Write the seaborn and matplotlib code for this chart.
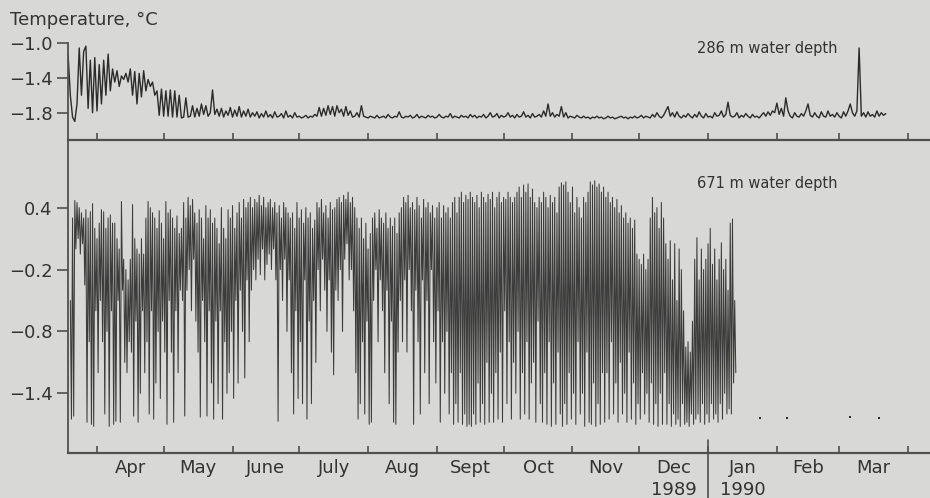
import numpy as np
import pandas as pd
import matplotlib
matplotlib.use("Agg")
import matplotlib.pyplot as plt
import matplotlib.transforms as mtransforms
import seaborn as sns

# ---------------- data (days counted from 1 March 1989) ----------------
top_start_day = 18
top_temp = [
    -1.14, -1.60, -1.85, -1.90, -1.70, -1.06, -1.60, -1.10, -1.04, -1.75,
    -1.20, -1.80, -1.17, -1.78, -1.25, -1.70, -1.20, -1.60, -1.13, -1.55,
    -1.30, -1.45, -1.32, -1.50, -1.38, -1.42, -1.35, -1.45, -1.30, -1.60,
    -1.33, -1.70, -1.35, -1.62, -1.32, -1.55, -1.42, -1.50, -1.45, -1.60,
    -1.55, -1.83, -1.53, -1.84, -1.55, -1.84, -1.54, -1.85, -1.55, -1.85,
    -1.60, -1.86, -1.85, -1.63, -1.85, -1.84, -1.72, -1.85, -1.75, -1.84,
    -1.70, -1.82, -1.72, -1.84, -1.80, -1.54, -1.82, -1.76, -1.84, -1.75,
    -1.85, -1.78, -1.83, -1.74, -1.85, -1.77, -1.84, -1.73, -1.85, -1.78,
    -1.84, -1.76, -1.85, -1.80, -1.84, -1.79, -1.86, -1.81, -1.85, -1.78,
    -1.85, -1.82, -1.86, -1.79, -1.85, -1.84, -1.81, -1.86, -1.78, -1.85,
    -1.83, -1.86, -1.80, -1.85, -1.84, -1.86, -1.85, -1.83, -1.86, -1.84,
    -1.85, -1.82, -1.84, -1.74, -1.84, -1.75, -1.83, -1.72, -1.82, -1.73,
    -1.84, -1.72, -1.80, -1.76, -1.84, -1.73, -1.83, -1.78, -1.85, -1.84,
    -1.80, -1.85, -1.72, -1.84, -1.85, -1.86, -1.84, -1.85, -1.86, -1.83,
    -1.86, -1.85, -1.84, -1.86, -1.82, -1.85, -1.86, -1.84, -1.85, -1.79,
    -1.85, -1.86, -1.84, -1.85, -1.83, -1.86, -1.85, -1.82, -1.86, -1.84,
    -1.85, -1.86, -1.83, -1.85, -1.84, -1.86, -1.85, -1.82, -1.85, -1.86,
    -1.84, -1.85, -1.81, -1.86, -1.84, -1.85, -1.86, -1.83, -1.85, -1.84,
    -1.86, -1.82, -1.85, -1.83, -1.86, -1.84, -1.85, -1.82, -1.86, -1.84,
    -1.80, -1.85, -1.84, -1.81, -1.86, -1.83, -1.85, -1.84, -1.80, -1.85,
    -1.83, -1.86, -1.82, -1.85, -1.84, -1.79, -1.85, -1.83, -1.86, -1.81,
    -1.85, -1.84, -1.82, -1.85, -1.78, -1.84, -1.70, -1.84, -1.80, -1.85,
    -1.82, -1.84, -1.73, -1.85, -1.80, -1.86, -1.84, -1.85, -1.86, -1.83,
    -1.85, -1.86, -1.84, -1.86, -1.85, -1.87, -1.85, -1.86, -1.84, -1.86,
    -1.85, -1.87, -1.86, -1.84, -1.86, -1.85, -1.87, -1.86, -1.85, -1.84,
    -1.86, -1.85, -1.87, -1.85, -1.86, -1.84, -1.86, -1.85, -1.83, -1.86,
    -1.84, -1.85, -1.86, -1.82, -1.85, -1.80, -1.84, -1.86, -1.83, -1.78,
    -1.73, -1.84, -1.80, -1.85, -1.79, -1.84, -1.86, -1.83, -1.85, -1.81,
    -1.84, -1.86, -1.82, -1.85, -1.79, -1.84, -1.86, -1.81, -1.85, -1.84,
    -1.86, -1.80, -1.84, -1.83, -1.78, -1.85, -1.82, -1.68, -1.83, -1.85,
    -1.84, -1.80, -1.86, -1.83, -1.85, -1.81, -1.84, -1.86, -1.82, -1.85,
    -1.84, -1.86, -1.83, -1.80, -1.84, -1.79, -1.83, -1.78, -1.80, -1.69,
    -1.82, -1.75, -1.84, -1.63, -1.78, -1.84, -1.86, -1.80, -1.84, -1.85,
    -1.81, -1.84, -1.78, -1.70, -1.83, -1.85, -1.80, -1.84, -1.86, -1.79,
    -1.84, -1.85, -1.78, -1.84, -1.82, -1.85, -1.80, -1.84, -1.86, -1.79,
    -1.84, -1.78, -1.70, -1.80, -1.84, -1.78, -1.06, -1.84, -1.80, -1.85,
    -1.79, -1.84, -1.82, -1.85, -1.78, -1.84, -1.80, -1.83, -1.81,
]

deep_start_day = 19
deep_high = [
    -0.50, 0.30, 0.47, 0.45, 0.40, 0.35, 0.30, 0.38, 0.30, 0.36,
    0.44, 0.20, 0.10, 0.25, 0.38, 0.36, 0.20, 0.30, 0.33, 0.25,
    0.25, 0.10, 0.00, 0.46, -0.10, -0.20, -0.30, -0.10, 0.43, 0.10,
    0.00, -0.05, 0.10, -0.05, 0.30, 0.46, 0.40, 0.35, 0.30, 0.20,
    0.37, 0.25, 0.10, 0.46, 0.35, 0.38, 0.30, 0.20, 0.32, 0.15,
    0.20, 0.45, 0.30, 0.50, 0.42, 0.48, 0.35, 0.25, 0.38, 0.30,
    0.10, 0.42, 0.30, 0.38, 0.25, 0.30, 0.20, 0.05, 0.40, 0.20,
    0.10, 0.38, 0.30, 0.42, 0.20, 0.35, 0.45, 0.30, 0.48, 0.40,
    0.45, 0.50, 0.40, 0.48, 0.45, 0.52, 0.42, 0.50, 0.40, 0.45,
    0.48, 0.40, 0.45, 0.35, 0.42, 0.30, 0.45, 0.40, 0.35, 0.30,
    0.35, 0.20, 0.45, 0.30, 0.38, 0.25, 0.40, 0.30, 0.35, 0.20,
    0.28, 0.45, 0.40, 0.48, 0.35, 0.42, 0.30, 0.45, 0.38, 0.40,
    0.48, 0.50, 0.45, 0.52, 0.48, 0.55, 0.45, 0.50, 0.40, 0.30,
    0.20, 0.30, 0.10, 0.25, 0.00, 0.15, 0.30, 0.35, 0.20, 0.38,
    0.30, 0.25, 0.35, 0.20, 0.30, 0.22, 0.30, 0.15, 0.35, 0.40,
    0.50, 0.45, 0.52, 0.40, 0.45, 0.38, 0.50, 0.42, 0.30, 0.48,
    0.40, 0.45, 0.35, 0.42, 0.30, 0.40, 0.45, 0.30, 0.42, 0.35,
    0.40, 0.30, 0.45, 0.50, 0.35, 0.50, 0.55, 0.45, 0.52, 0.48,
    0.55, 0.50, 0.45, 0.52, 0.40, 0.55, 0.50, 0.45, 0.53, 0.48,
    0.55, 0.40, 0.50, 0.55, 0.45, 0.50, 0.48, 0.55, 0.50, 0.45,
    0.50, 0.55, 0.60, 0.50, 0.62, 0.55, 0.63, 0.50, 0.58, 0.45,
    0.40, 0.50, 0.45, 0.55, 0.50, 0.40, 0.52, 0.45, 0.50, 0.35,
    0.60, 0.64, 0.62, 0.65, 0.55, 0.45, 0.60, 0.35, 0.50, 0.40,
    0.30, 0.50, 0.45, 0.55, 0.65, 0.62, 0.66, 0.60, 0.63, 0.55,
    0.60, 0.50, 0.55, 0.45, 0.50, 0.40, 0.48, 0.35, 0.42, 0.30,
    0.35, 0.25, 0.30, 0.20, 0.28, -0.05, -0.10, -0.15, -0.05, -0.20,
    -0.10, 0.30, 0.50, 0.35, 0.40, 0.20, 0.45, 0.30, 0.05, -0.10,
    0.08, -0.30, 0.05, -0.50, 0.00, -0.20, -0.60, -0.95, -0.90, -1.00,
    -0.70, -0.10, 0.11, -0.30, 0.00, -0.20, -0.10, 0.05, 0.20, -0.15,
    0.00, -0.30, -0.10, 0.06, -0.20, -0.10, -0.40, 0.25, 0.29, -0.50,
]
deep_low = [
    -1.65, -1.62, 0.00, 0.10, -0.05, 0.05, -0.35, -1.68, -0.90, -1.70,
    -1.72, -0.60, -1.20, -0.50, -0.90, -1.60, -0.80, -1.72, -0.60, -1.70,
    -1.67, -0.50, -1.68, -0.40, -1.10, -1.20, -0.90, -1.00, -1.62, -0.70,
    -1.68, -1.40, -0.60, -1.20, -0.90, -1.60, -0.60, -1.65, -1.30, -0.80,
    -1.45, -0.70, -1.00, -1.70, -0.50, -1.00, -1.68, -0.60, -1.20, -0.40,
    -0.50, -1.62, -0.40, -0.20, -0.60, -0.10, -0.70, -1.00, -1.63, -0.50,
    -0.90, -1.62, -0.60, -1.30, -1.65, -0.70, -1.50, -0.60, -1.65, -0.90,
    -1.40, -1.20, -0.80, -1.45, -0.50, -1.30, -0.40, -0.80, -1.25, -0.30,
    -0.90, -0.40, -0.20, -0.30, -0.10, -0.25, 0.00, -0.30, -0.15, -0.05,
    -0.20, 0.00, -0.30, -1.67, -0.20, -0.50, -0.10, -0.80, -0.30, -1.20,
    -1.60, -0.60, -1.45, -0.90, -1.50, -0.30, -1.65, -0.70, -1.50, -0.50,
    -1.10, -0.20, -0.60, -0.10, -0.40, -0.80, -0.30, -1.00, -1.22, -0.40,
    -0.50, -0.20, -0.80, -0.10, 0.05, -0.30, -0.20, -0.60, -1.20, -1.65,
    -1.50, -0.90, -1.60, -0.70, -1.70, -1.68, -0.50, -0.20, -0.90, -0.30,
    -0.60, -1.20, -0.40, -1.50, -0.70, -1.68, -1.70, -1.00, -0.50, -0.90,
    -0.30, -1.00, -0.20, -0.60, -1.70, -0.40, -0.90, -1.60, -0.30, -1.20,
    -0.50, -1.50, -0.20, -0.90, -1.30, -0.60, -1.68, -0.90, -1.40, -0.80,
    -1.60, -1.20, -1.70, -1.50, -1.68, -1.20, -1.70, -1.60, -1.72, -1.70,
    -1.72, -1.60, -1.70, -1.30, -1.68, -1.50, -1.70, -1.10, -1.68, -1.40,
    -1.68, -1.20, -1.65, -1.00, -1.68, -0.60, -1.50, -0.90, -1.65, -1.10,
    -1.40, -0.80, -1.65, -1.20, -1.60, -0.90, -1.65, -1.30, -1.10, -1.68,
    -0.70, -1.50, -1.68, -1.20, -1.70, -0.90, -1.72, -1.30, -1.70, -1.00,
    -1.60, -1.72, -1.50, -1.70, -1.20, -1.65, -1.40, -1.70, -0.90, -1.60,
    -1.40, -1.72, -1.00, -1.68, -1.70, -1.30, -1.72, -1.50, -1.70, -1.20,
    -1.68, -1.20, -1.65, -0.90, -1.60, -1.30, -1.68, -1.10, -1.60, -1.40,
    -1.68, -1.00, -1.65, -1.30, -1.70, -1.50, -1.65, -1.20, -1.60, -1.40,
    -1.68, -1.30, -1.70, -1.50, -1.72, -1.40, -1.70, -1.20, -1.70, -1.50,
    -1.72, -1.60, -1.70, -1.65, -1.72, -1.50, -1.70, -1.68, -1.72, -1.60,
    -1.70, -1.65, -1.60, -1.68, -1.50, -1.70, -1.60, -1.68, -1.50, -1.65,
    -1.60, -1.68, -1.50, -1.65, -1.40, -1.60, -1.55, -1.60, -1.30, -1.20,
]
deep_dot_days = [329.4, 341.6, 369.9, 382.9]
deep_dot_temp = [-1.64, -1.64, -1.63, -1.64]

month_tick_days = [31, 61, 92, 122, 153, 184, 214, 245, 275, 306, 337, 365, 396]
month_label_days = [46, 76.5, 107, 137.5, 168.5, 199, 229.5, 260, 290.5, 321.5, 351, 380.5]
month_labels = ["Apr", "May", "June", "July", "Aug", "Sept", "Oct", "Nov",
                "Dec\n1989", "Jan\n1990", "Feb", "Mar"]
year_break_day = 306

top_yticks = [-1.0, -1.4, -1.8]
top_yticklabels = ["\u22121.0", "\u22121.4", "\u22121.8"]
deep_yticks = [0.4, -0.2, -0.8, -1.4]
deep_yticklabels = ["0.4", "\u22120.2", "\u22120.8", "\u22121.4"]

# ---------------- frames ----------------
top_df = pd.DataFrame({
    "day": np.arange(top_start_day, top_start_day + len(top_temp)),
    "temp": top_temp,
})
deep_days = np.arange(deep_start_day, deep_start_day + len(deep_high))
deep_df = pd.DataFrame({
    "day": np.column_stack([deep_days, deep_days + 0.5]).ravel(),
    "temp": np.column_stack([deep_high, deep_low]).ravel(),
})
dots_df = pd.DataFrame({"day": deep_dot_days, "temp": deep_dot_temp})

# ---------------- style ----------------
sns.set_theme(style="ticks")
plt.rcParams["font.family"] = ["DejaVu Sans"]
bg = "#d8d8d6"
ink = "#2b2b2b"
axis_c = "#505050"
text_c = "#333333"

fig = plt.figure(figsize=(9.3, 4.98), dpi=100, facecolor=bg)
ax_top = fig.add_axes([68 / 930, 358 / 498, 862 / 930, 97.3 / 498])
ax_bot = fig.add_axes([68 / 930, 45 / 498, 862 / 930, 313 / 498])

xlim = (17.95, 405.9)

sns.lineplot(data=top_df, x="day", y="temp", ax=ax_top, color=ink,
             linewidth=1.0, estimator=None, sort=False)
sns.lineplot(data=deep_df, x="day", y="temp", ax=ax_bot, color=ink,
             linewidth=0.75, estimator=None, sort=False, alpha=0.9)
sns.scatterplot(data=dots_df, x="day", y="temp", ax=ax_bot, color=ink,
                s=4, linewidth=0, marker="s")

for ax in (ax_top, ax_bot):
    ax.set_facecolor("none")
    sns.despine(ax=ax)
    ax.spines["left"].set_color(axis_c)
    ax.spines["bottom"].set_color(axis_c)
    ax.spines["left"].set_linewidth(1.3)
    ax.spines["bottom"].set_linewidth(1.6)
    ax.set_xlim(*xlim)
    ax.set_xlabel("")
    ax.set_ylabel("")
    ax.set_xticks(month_tick_days)
    ax.tick_params(axis="x", which="major", direction="in", length=5,
                   width=1.2, color=axis_c, labelbottom=False)
    ax.tick_params(axis="y", direction="out", length=8, width=1.2,
                   color=axis_c, pad=3, labelsize=13, labelcolor=text_c)
    ax.grid(False)

ax_top.set_ylim(-2.112, -1.0)
ax_top.set_yticks(top_yticks)
ax_top.set_yticklabels(top_yticklabels)

ax_bot.set_ylim(-1.978, 1.056)
ax_bot.set_yticks(deep_yticks)
ax_bot.set_yticklabels(deep_yticklabels)
ax_bot.set_xticks(month_label_days, minor=True)
ax_bot.set_xticklabels(month_labels, minor=True, linespacing=1.35)
ax_bot.tick_params(axis="x", which="minor", length=0, pad=4,
                   labelsize=13, labelcolor=text_c, labelbottom=True)

# year separator below the axis
trans = mtransforms.blended_transform_factory(ax_bot.transData, ax_bot.transAxes)
ax_bot.plot([year_break_day, year_break_day], [0.04, -0.16], transform=trans,
            color=axis_c, linewidth=1.2, clip_on=False)

fig.text(10 / 930, 1 - 20 / 498, "Temperature, \u00b0C", fontsize=13,
         color=text_c, ha="left", va="center")
ax_top.text(697 / 930, 1 - 48 / 498, "286 m water depth", transform=fig.transFigure,
            fontsize=10.5, color=text_c, ha="left", va="center")
ax_bot.text(697 / 930, 1 - 183 / 498, "671 m water depth", transform=fig.transFigure,
            fontsize=10.5, color=text_c, ha="left", va="center")

fig.savefig("out.png", dpi=100, facecolor=bg)
